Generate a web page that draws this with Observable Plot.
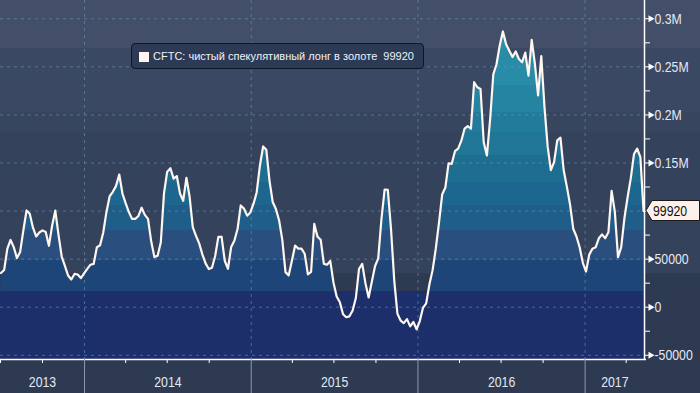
<!DOCTYPE html>
<html><head><meta charset="utf-8">
<script src="https://cdn.jsdelivr.net/npm/d3@7"></script>
<script src="https://cdn.jsdelivr.net/npm/@observablehq/plot@0.6"></script>
<style>
html,body{margin:0;padding:0;background:#2e3a54;}
#wrap{position:relative;width:700px;height:393px;overflow:hidden;
 background:linear-gradient(to bottom,#434f68 0px,#434f68 48px,#3b4863 48px,#3b4863 112px,#38455f 112px,#38455f 132px,#35425c 132px,#35425c 273px,#2e3a52 273px,#2e3a52 393px);}
#wrap svg{display:block;background:transparent;}
#legend{position:absolute;left:131px;top:43px;width:293px;height:26px;box-sizing:border-box;border:1px solid #0f1624;border-radius:4px;background:#2d3a55;
 font-family:"Liberation Sans",Arial,sans-serif;font-size:11px;color:#eef2f7;white-space:pre;overflow:hidden;}
#legend .sw{position:absolute;left:7px;top:8px;width:10px;height:10px;background:#fff4f0;}
#legend .tx{position:absolute;left:21px;top:5px;line-height:14px;}
#tag{position:absolute;left:645px;width:55px;height:21px;}
</style></head>
<body><div id="wrap"></div>
<script>
// ---- data ----
const startDate = "2013-07-02"; // weekly CFTC reports (Tuesdays)
const values = [
35600,38700,61000,69900,62500,51100,57500,79800,100600,97100,
82900,73600,77700,79900,78300,63900,84700,100500,75200,52700,
43000,32900,28800,34600,34000,30300,35200,39900,44200,45000,
62400,64400,77800,99100,115400,120000,126200,138000,118200,108200,
99000,91900,91900,94900,103500,96000,91900,68300,52100,53600,
67500,118600,141000,144500,133700,136400,118200,110700,134600,115100,
83400,74300,66400,55000,45600,39700,41100,53200,73200,73300,
48300,39900,62600,69100,81300,105800,102600,95200,98500,107600,
119600,147400,167200,163700,131400,109400,102200,90300,70000,36500,
33100,48300,64100,60900,61000,55600,34200,36700,86600,73400,
70200,45000,44200,48200,25700,11100,5100,-7300,-10400,-9500,
-3500,9500,39900,45100,25000,10100,26400,42600,50800,91400,
122400,122100,81500,28200,-6700,-13900,-16600,-12400,-19900,-15400,
-23000,-14400,-600,4000,23600,38300,60800,87700,117200,124500,
149700,149100,162300,165000,173200,185700,188400,185600,234000,228800,
227000,171600,157900,195500,242300,252700,272200,286800,273500,266700,
260200,266000,258100,254800,264900,240800,278000,253200,220200,261200,
208300,167000,142600,150900,173600,176300,142700,125400,106800,81600,
73500,62400,46200,37100,54700,60900,62300,71700,75800,71700,
77900,121000,99400,52000,62400,92500,114400,134200,159300,164900,
156000,99920];
const seriesName = "CFTC: чистый спекулятивный лонг в золоте";
const lastLabel = "99920";
// the 100000 label sits under the last-value tag in the reference
const yTicks = [-50000,0,50000,100000,150000,200000,250000,300000];
const yTickLabels = ["-50000","0","50000","","0.15M","0.2M","0.25M","0.3M"];
const yMinorTicks = [-25000,25000,75000,125000,175000,225000,275000];
const yearLabels = ["2013","2014","2015","2016","2017"];

// ---- style constants ----
const W = 700, H = 393;
const xDomain = [new Date("2013-07-01"), new Date("2017-05-11")];
const yDomain = [-54400, 319000];
const areaBreaks = [269000,230600,202500,181700,157800,129700,105800,79700,48600,16300];
const areaColors = ["#2c90ab","#288ba7","#2484a2","#217c9c","#1f7697","#1e6e92","#1d6690","#1e5e89","#2a4f7f","#1d4577","#1c2f6b"];
const navyTop = 16300;
const FONT = '"Liberation Sans",Arial,sans-serif';
const NARROW = 0.82;

const data = values.map((v, i) => ({date: d3.utcDay.offset(new Date(startDate), 7 * i), value: v}));
const labelMap = new Map(yTicks.map((t, i) => [t, yTickLabels[i]]));

const yearStarts = yearLabels.map(y => new Date(`${y}-01-01`)).filter(d => d > xDomain[0] && d < xDomain[1]);
const quarterStarts = d3.utcMonth.every(3).range(xDomain[0], xDomain[1]).filter(d => d.getUTCMonth() !== 0);
const yearMids = yearLabels.map(y => {
  const a = new Date(Math.max(+new Date(`${y}-01-01`), +xDomain[0]));
  const b = new Date(Math.min(+new Date(`${+y + 1}-01-01`), +xDomain[1]));
  return {label: y, mid: new Date((+a + +b) / 2)};
});

const chart = Plot.plot({
  width: W, height: H,
  marginLeft: 0, marginRight: 56, marginTop: 0, marginBottom: 34,
  style: {background: "transparent", fontFamily: FONT, overflow: "visible"},
  x: {type: "utc", domain: xDomain, axis: null},
  y: {domain: yDomain, axis: null},
  marks: [
    Plot.rect([0], {x1: () => xDomain[0], x2: () => xDomain[1], y1: () => yDomain[0], y2: () => navyTop, fill: "#1c2f6b"}),
    Plot.areaY(data, {x: "date", y: "value", fill: "url(#areaGrad)"}),
    Plot.ruleY(yTicks, {stroke: "#6a9cc4", strokeOpacity: 0.55, strokeDasharray: "3,4"}),
    Plot.ruleX(yearStarts, {stroke: "#6a9cc4", strokeOpacity: 0.55, strokeDasharray: "3,4"}),
    Plot.lineY(data, {x: "date", y: "value", stroke: "#fff6ef", strokeWidth: 2.2}),
    Plot.ruleY([yDomain[0]], {stroke: "#ffffff", strokeWidth: 1.5, insetRight: -2}),
    Plot.ruleX([xDomain[1]], {stroke: "#ffffff", strokeWidth: 1.5}),
    Plot.axisY(yMinorTicks, {anchor: "right", tickSize: 5, tickFormat: () => "", stroke: "#ffffff", label: null}),
    Plot.axisY(yTicks, {anchor: "right", tickSize: 4, tickPadding: 6, tickFormat: d => labelMap.get(d), stroke: "#ffffff", fill: "#e3e9f1", fontSize: 15, label: null}),
    Plot.dot(yTicks, {y: d => d, frameAnchor: "right", dx: 6, symbol: "triangle", r: 2.6, rotate: 90, fill: "#ffffff", stroke: "none"}),
    Plot.axisX(quarterStarts, {anchor: "bottom", tickSize: 4, tickFormat: () => "", stroke: "#ffffff", label: null}),
    Plot.axisX(yearStarts, {anchor: "bottom", tickSize: 34, tickFormat: () => "", stroke: "#8f98aa", label: null}),
    Plot.text(yearMids, {x: "mid", text: "label", frameAnchor: "bottom", dy: 27, fill: "#e3e9f1", fontSize: 15})
  ]
});

// narrow (condensed) look for axis texts
chart.querySelectorAll("text").forEach(t => {
  if (!t.textContent) return;
  const tr = t.getAttribute("transform");
  if (tr) t.setAttribute("transform", `${tr} scale(${NARROW},1)`);
});

// gradient bands for the area
const ns = "http://www.w3.org/2000/svg";
const ysc = chart.scale("y");
const defs = document.createElementNS(ns, "defs");
const grad = document.createElementNS(ns, "linearGradient");
grad.setAttribute("id", "areaGrad");
grad.setAttribute("gradientUnits", "userSpaceOnUse");
grad.setAttribute("x1", 0); grad.setAttribute("y1", 0);
grad.setAttribute("x2", 0); grad.setAttribute("y2", H);
const edges = [0, ...areaBreaks.map(v => ysc.apply(v)), H];
areaColors.forEach((c, k) => {
  [edges[k], edges[k + 1]].forEach(e => {
    const s = document.createElementNS(ns, "stop");
    s.setAttribute("offset", (e / H).toFixed(5));
    s.setAttribute("stop-color", c);
    grad.appendChild(s);
  });
});
defs.appendChild(grad);
chart.insertBefore(defs, chart.firstChild);

const wrap = document.getElementById("wrap");
wrap.appendChild(chart);

// legend box
const lg = document.createElement("div");
lg.id = "legend";
lg.innerHTML = `<span class="sw"></span><span class="tx"></span>`;
lg.querySelector(".tx").textContent = `${seriesName}  ${values[values.length - 1]}`;
wrap.appendChild(lg);

// last value tag
const ty = ysc.apply(values[values.length - 1]);
const tag = document.createElement("div");
tag.id = "tag";
tag.style.top = (ty - 10.5) + "px";
tag.innerHTML = `<svg width="55" height="21" style="position:absolute;left:0;top:0"><path d="M1,10.5 L7,0.5 L54.5,0.5 L54.5,20.5 L7,20.5 Z" fill="#fdf2eb" stroke="#1a1a1a" stroke-width="1"/><text transform="translate(8,16) scale(${NARROW},1)" font-size="15" fill="#111" font-family='Liberation Sans, Arial, sans-serif'>${lastLabel}</text></svg>`;
wrap.appendChild(tag);
</script>
</body></html>
